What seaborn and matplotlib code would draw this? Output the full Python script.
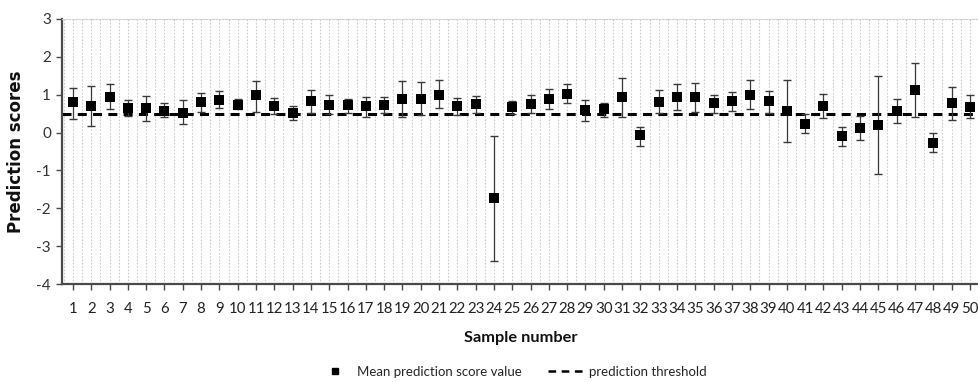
import matplotlib
matplotlib.use("Agg")
import matplotlib.pyplot as plt
from matplotlib.lines import Line2D
import numpy as np
import pandas as pd
import seaborn as sns

# Mean prediction score per sample with its error range
samples = list(range(1, 51))
mean_score = [0.80, 0.70, 0.95, 0.66, 0.64, 0.58, 0.52, 0.80, 0.87, 0.73,
              0.98, 0.70, 0.52, 0.83, 0.74, 0.74, 0.71, 0.74, 0.90, 0.90,
              1.00, 0.71, 0.75, -1.73, 0.68, 0.76, 0.88, 1.02, 0.60, 0.62,
              0.93, -0.06, 0.81, 0.93, 0.93, 0.77, 0.83, 1.00, 0.83, 0.58,
              0.23, 0.70, -0.09, 0.13, 0.20, 0.58, 1.12, -0.27, 0.77, 0.68]
upper_bound = [1.18, 1.22, 1.29, 0.86, 0.97, 0.77, 0.85, 1.05, 1.10, 0.89,
               1.37, 0.92, 0.71, 1.12, 0.98, 0.90, 0.95, 0.95, 1.36, 1.33,
               1.38, 0.92, 0.97, -0.08, 0.84, 0.98, 1.14, 1.27, 0.86, 0.79,
               1.44, 0.16, 1.12, 1.27, 1.30, 0.99, 1.07, 1.38, 1.10, 1.39,
               0.48, 1.02, 0.16, 0.44, 1.49, 0.89, 1.85, 0.00, 1.21, 0.99]
lower_bound = [0.36, 0.17, 0.63, 0.44, 0.31, 0.40, 0.23, 0.55, 0.64, 0.61,
               0.55, 0.48, 0.33, 0.51, 0.48, 0.51, 0.42, 0.51, 0.42, 0.46,
               0.66, 0.46, 0.51, -3.40, 0.49, 0.53, 0.61, 0.77, 0.31, 0.42,
               0.40, -0.35, 0.51, 0.59, 0.55, 0.51, 0.57, 0.63, 0.53, -0.26,
               0.00, 0.38, -0.35, -0.20, -1.10, 0.26, 0.42, -0.52, 0.33, 0.38]
threshold = 0.5
y_ticks = [-4, -3, -2, -1, 0, 1, 2, 3]

df = pd.DataFrame({"sample": samples, "mean": mean_score,
                   "upper": upper_bound, "lower": lower_bound})

sns.set_theme(style="white")
plt.rcParams["font.family"] = ["Lato", "DejaVu Sans"]
plt.rcParams["lines.scale_dashes"] = False

W, H = 979, 382
fig = plt.figure(figsize=(W / 100, H / 100), dpi=100)
ax = fig.add_axes([62 / W, (H - 284) / H, (979 - 62) / W, 265 / H])

axis_col = "#4a4a4a"

# error bars
yerr = np.vstack([df["mean"] - df["lower"], df["upper"] - df["mean"]])
ax.errorbar(df["sample"], df["mean"], yerr=yerr, fmt="none",
            ecolor="#3a3a3a", elinewidth=0.9, capsize=3.0, capthick=1.0, zorder=3)

# threshold line
ax.axhline(threshold, color="black", lw=2.2, dashes=(6.5, 4.5), zorder=2)

# mean markers
sns.scatterplot(data=df, x="sample", y="mean", marker="s", s=44, color="black",
                edgecolor="black", linewidth=0, zorder=4, ax=ax, legend=False)

ax.set_xlim(0.4, 50.43)
ax.set_ylim(-4, 3)
ax.set_xticks(samples)
ax.set_xticklabels([str(s) for s in samples])
ax.set_xticks(np.arange(0.5, 51, 1.0), minor=True)
ax.set_yticks(y_ticks)
ax.set_yticklabels([str(v) for v in y_ticks])

ax.grid(False)
ax.xaxis.grid(True, which="both", color="#cccccc", linestyle=(0, (1.2, 1.2)), lw=0.8)
ax.set_axisbelow(True)

for side in ("left", "bottom"):
    ax.spines[side].set_color(axis_col)
    ax.spines[side].set_linewidth(1.6)
ax.spines["right"].set_visible(False)
ax.spines["top"].set_color("#cccccc")
ax.spines["top"].set_linestyle((0, (1.2, 1.2)))
ax.spines["top"].set_linewidth(0.8)

ax.tick_params(axis="x", which="major", direction="out", length=4, width=1.0,
               color=axis_col, labelsize=10.8, labelcolor="#222222", pad=9, bottom=True)
ax.tick_params(axis="x", which="minor", length=0)
ax.tick_params(axis="y", direction="out", length=4, width=1.0, color=axis_col,
               labelsize=11, labelcolor="#333333", pad=4, left=True)

ax.set_xlabel("Sample number", fontsize=11.8, fontweight="bold", labelpad=11, color="#111111")
ax.set_ylabel("Prediction scores", fontsize=12, fontweight="bold", labelpad=8,
              color="#111111", family=["DejaVu Sans"])

handles = [
    Line2D([], [], marker="s", color="black", linestyle="none", markersize=4.5),
    Line2D([], [], color="black", lw=1.8, dashes=(5.5, 4)),
]
fig.legend(handles, ["Mean prediction score value", "prediction threshold"],
           loc="center", bbox_to_anchor=(511 / W, 1 - 372 / H), ncol=2, frameon=False,
           fontsize=9.5, handlelength=2.95, columnspacing=2.0, handletextpad=0.15)

fig.savefig("out.png", dpi=100)
